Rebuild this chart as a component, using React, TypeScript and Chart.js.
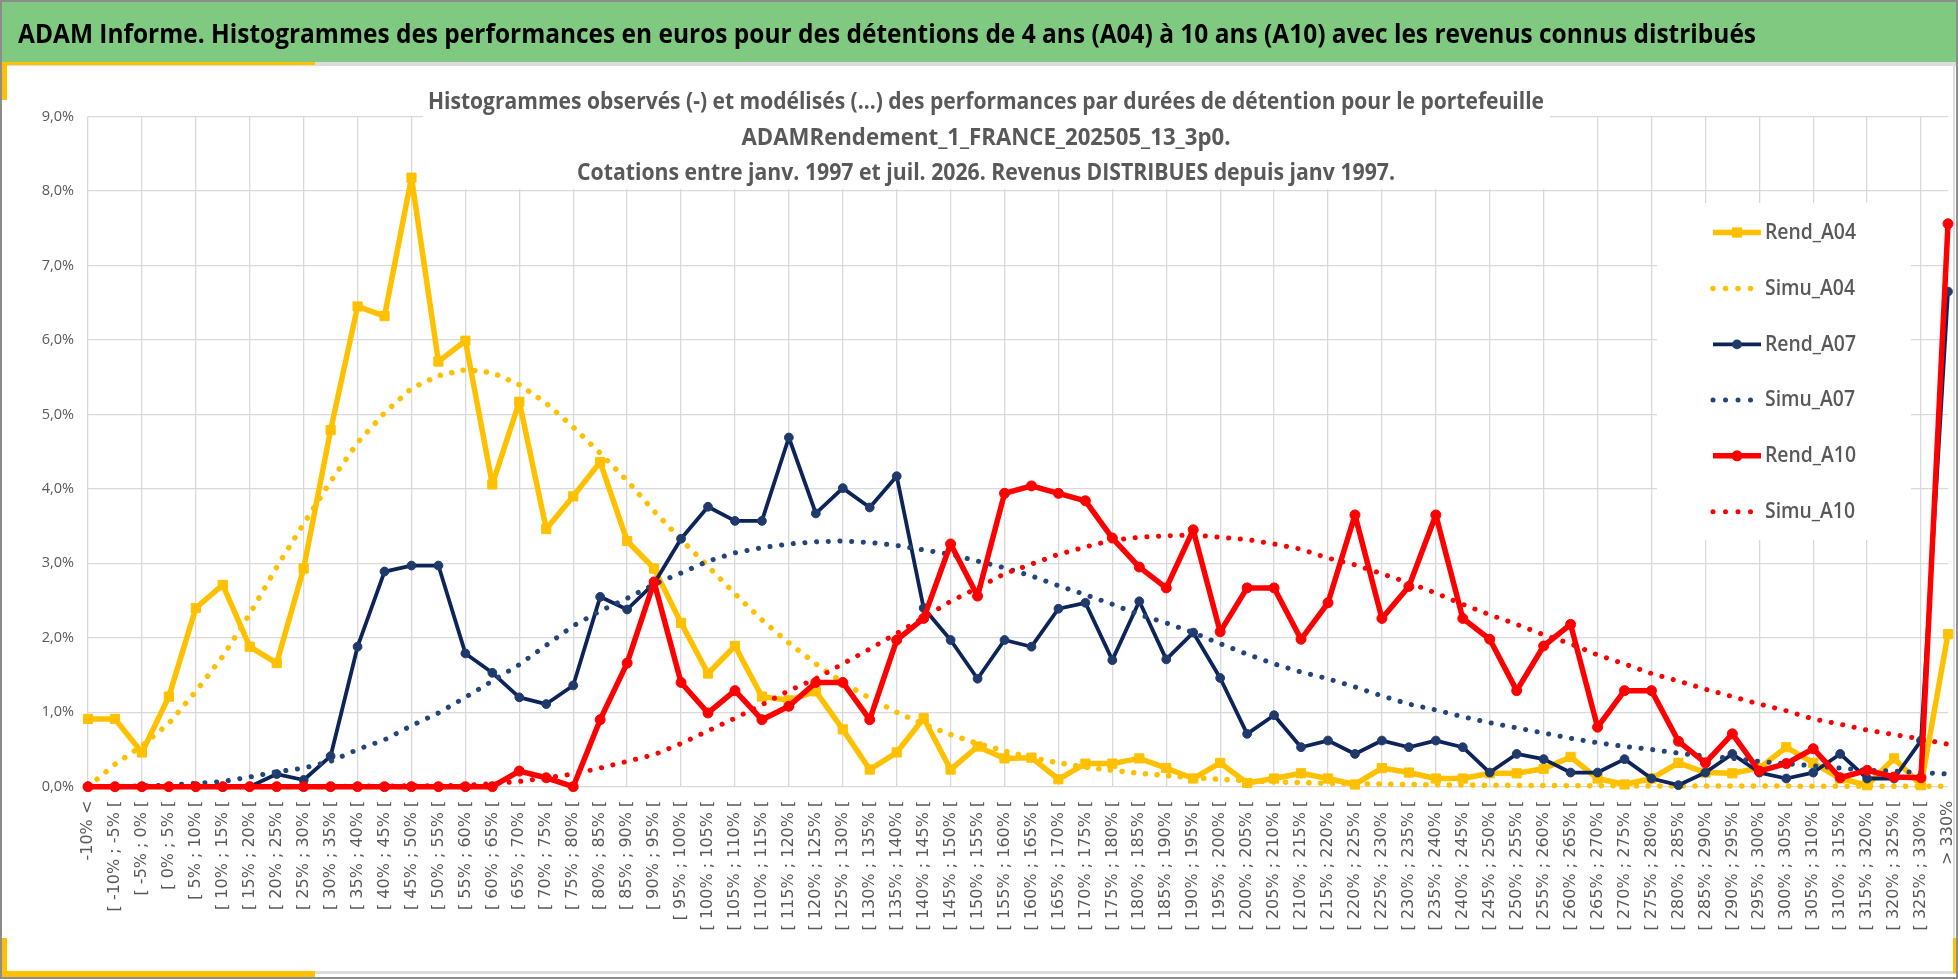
import React, { useEffect, useRef } from 'react';
import { Chart, registerables } from 'chart.js';

Chart.register(...registerables);

const W = 1958;
const H = 979;

const headerTitle =
  'ADAM Informe. Histogrammes des performances en euros pour des détentions de 4 ans (A04) à 10 ans (A10) avec les revenus connus distribués';

const chartTitleLines = [
  'Histogrammes observés (-) et modélisés (...) des performances par durées de détention pour le portefeuille',
  'ADAMRendement_1_FRANCE_202505_13_3p0.',
  'Cotations entre janv. 1997 et juil. 2026. Revenus DISTRIBUES depuis janv 1997.',
];

const categories = [
  '-10% <',
  '[ -10% ; -5% [', '[ -5% ; 0% [', '[ 0% ; 5% [', '[ 5% ; 10% [', '[ 10% ; 15% [',
  '[ 15% ; 20% [', '[ 20% ; 25% [', '[ 25% ; 30% [', '[ 30% ; 35% [', '[ 35% ; 40% [',
  '[ 40% ; 45% [', '[ 45% ; 50% [', '[ 50% ; 55% [', '[ 55% ; 60% [', '[ 60% ; 65% [',
  '[ 65% ; 70% [', '[ 70% ; 75% [', '[ 75% ; 80% [', '[ 80% ; 85% [', '[ 85% ; 90% [',
  '[ 90% ; 95% [', '[ 95% ; 100% [', '[ 100% ; 105% [', '[ 105% ; 110% [', '[ 110% ; 115% [',
  '[ 115% ; 120% [', '[ 120% ; 125% [', '[ 125% ; 130% [', '[ 130% ; 135% [', '[ 135% ; 140% [',
  '[ 140% ; 145% [', '[ 145% ; 150% [', '[ 150% ; 155% [', '[ 155% ; 160% [', '[ 160% ; 165% [',
  '[ 165% ; 170% [', '[ 170% ; 175% [', '[ 175% ; 180% [', '[ 180% ; 185% [', '[ 185% ; 190% [',
  '[ 190% ; 195% [', '[ 195% ; 200% [', '[ 200% ; 205% [', '[ 205% ; 210% [', '[ 210% ; 215% [',
  '[ 215% ; 220% [', '[ 220% ; 225% [', '[ 225% ; 230% [', '[ 230% ; 235% [', '[ 235% ; 240% [',
  '[ 240% ; 245% [', '[ 245% ; 250% [', '[ 250% ; 255% [', '[ 255% ; 260% [', '[ 260% ; 265% [',
  '[ 265% ; 270% [', '[ 270% ; 275% [', '[ 275% ; 280% [', '[ 280% ; 285% [', '[ 285% ; 290% [',
  '[ 290% ; 295% [', '[ 295% ; 300% [', '[ 300% ; 305% [', '[ 305% ; 310% [', '[ 310% ; 315% [',
  '[ 315% ; 320% [', '[ 320% ; 325% [', '[ 325% ; 330% [',
  '> 330%',
];

const rendA04 = [
  0.91, 0.91, 0.46, 1.21, 2.40, 2.71, 1.88, 1.66, 2.93, 4.79,
  6.45, 6.32, 8.18, 5.71, 5.99, 4.06, 5.17, 3.46, 3.90, 4.36,
  3.30, 2.93, 2.20, 1.52, 1.89, 1.21, 1.16, 1.28, 0.77, 0.23,
  0.46, 0.92, 0.23, 0.54, 0.38, 0.39, 0.10, 0.31, 0.31, 0.38,
  0.25, 0.11, 0.32, 0.05, 0.11, 0.18, 0.11, 0.03, 0.25, 0.19,
  0.11, 0.11, 0.18, 0.18, 0.24, 0.40, 0.11, 0.03, 0.11, 0.32,
  0.19, 0.18, 0.25, 0.53, 0.32, 0.11, 0.02, 0.38, 0.02, 2.05,
];

const simuA04 = [
  0.00, 0.30, 0.55, 0.85, 1.28, 1.75, 2.32, 2.95, 3.53, 4.10,
  4.62, 5.02, 5.35, 5.52, 5.60, 5.56, 5.40, 5.15, 4.83, 4.48,
  4.11, 3.70, 3.32, 2.96, 2.59, 2.24, 1.93, 1.65, 1.40, 1.19,
  1.00, 0.84, 0.70, 0.58, 0.48, 0.39, 0.32, 0.26, 0.22, 0.18,
  0.15, 0.12, 0.10, 0.08, 0.065, 0.055, 0.045, 0.04, 0.035, 0.03,
  0.025, 0.022, 0.02, 0.018, 0.016, 0.014, 0.012, 0.011, 0.01, 0.01,
  0.01, 0.009, 0.008, 0.008, 0.007, 0.007, 0.006, 0.006, 0.005, 0.005,
];

const rendA07 = [
  0, 0, 0, 0, 0, 0, 0, 0.17, 0.09, 0.41,
  1.88, 2.89, 2.97, 2.97, 1.79, 1.53, 1.20, 1.11, 1.36, 2.55,
  2.38, 2.73, 3.33, 3.76, 3.57, 3.57, 4.69, 3.67, 4.01, 3.75,
  4.17, 2.40, 1.97, 1.45, 1.97, 1.88, 2.39, 2.47, 1.70, 2.49,
  1.71, 2.07, 1.46, 0.71, 0.96, 0.53, 0.62, 0.44, 0.62, 0.53,
  0.62, 0.53, 0.19, 0.44, 0.37, 0.19, 0.19, 0.37, 0.11, 0.02,
  0.19, 0.44, 0.19, 0.11, 0.19, 0.44, 0.11, 0.11, 0.62, 6.65,
];

const simuA07 = [
  0.00, 0.005, 0.01, 0.02, 0.045, 0.07, 0.13, 0.20, 0.25, 0.34,
  0.50, 0.63, 0.82, 0.99, 1.20, 1.42, 1.64, 1.90, 2.16, 2.36,
  2.53, 2.72, 2.87, 3.03, 3.14, 3.21, 3.26, 3.29, 3.30, 3.28,
  3.24, 3.18, 3.12, 3.03, 2.94, 2.83, 2.70, 2.58, 2.45, 2.31,
  2.20, 2.07, 1.92, 1.78, 1.65, 1.54, 1.45, 1.34, 1.22, 1.11,
  1.03, 0.94, 0.86, 0.79, 0.72, 0.65, 0.59, 0.54, 0.50, 0.45,
  0.41, 0.38, 0.34, 0.31, 0.28, 0.25, 0.22, 0.21, 0.19, 0.17,
];

const rendA10 = [
  0, 0, 0, 0, 0, 0, 0, 0, 0, 0,
  0, 0, 0, 0, 0, 0, 0.21, 0.12, 0.00, 0.90,
  1.66, 2.75, 1.40, 0.99, 1.29, 0.90, 1.08, 1.40, 1.40, 0.90,
  1.97, 2.26, 3.26, 2.56, 3.94, 4.04, 3.94, 3.84, 3.34, 2.95,
  2.67, 3.45, 2.08, 2.67, 2.67, 1.98, 2.47, 3.65, 2.26, 2.69,
  3.65, 2.26, 1.98, 1.29, 1.89, 2.18, 0.80, 1.29, 1.29, 0.61,
  0.32, 0.71, 0.21, 0.31, 0.51, 0.12, 0.22, 0.13, 0.12, 7.56,
];

const simuA10 = [
  0, 0, 0, 0, 0, 0, 0, 0, 0.003, 0.005,
  0.007, 0.01, 0.012, 0.015, 0.02, 0.04, 0.07, 0.12, 0.17, 0.25,
  0.34, 0.43, 0.58, 0.75, 0.92, 1.10, 1.29, 1.45, 1.65, 1.85,
  2.06, 2.27, 2.49, 2.67, 2.86, 2.99, 3.12, 3.22, 3.31, 3.35,
  3.37, 3.38, 3.35, 3.32, 3.26, 3.19, 3.07, 2.98, 2.86, 2.74,
  2.60, 2.45, 2.31, 2.18, 2.04, 1.92, 1.77, 1.65, 1.52, 1.42,
  1.31, 1.21, 1.11, 1.02, 0.91, 0.84, 0.76, 0.70, 0.64, 0.57,
];

const yTicks = [0, 1, 2, 3, 4, 5, 6, 7, 8, 9];

const YEL = '#FFC000';
const NAVY = '#0C2459';
const NAVY_PT = '#203A6C';
const STEEL = '#22457A';
const RED = '#FF0000';
const GRID = '#D9D9D9';
const TXT = '#595959';
const DOT = [0.1, 11.6];

function fitText(
  ctx: CanvasRenderingContext2D,
  text: string,
  x: number,
  y: number,
  font: string,
  scaleX: number,
  align: CanvasTextAlign,
  baseline: CanvasTextBaseline
) {
  ctx.save();
  ctx.font = font;
  ctx.translate(x, y);
  ctx.scale(scaleX, 1);
  ctx.textAlign = align;
  ctx.textBaseline = baseline;
  ctx.fillText(text, 0, 0);
  ctx.restore();
}

const overlayPlugin = {
  id: 'overlay',
  beforeDatasetsDraw(chart: any) {
    const ctx: CanvasRenderingContext2D = chart.ctx;
    ctx.save();
    // title box
    ctx.fillStyle = '#FFFFFF';
    ctx.fillRect(423, 80, 1127, 109);
    // title lines
    ctx.fillStyle = TXT;
    const tFont = "700 24px 'Open Sans'";
    const targets = [1116, 489, 818];
    const baselines = [109, 145, 180];
    chartTitleLines.forEach((line, i) => {
      ctx.font = tFont;
      const w = ctx.measureText(line).width;
      fitText(ctx, line, 986, baselines[i], tFont, targets[i] / w, 'center', 'alphabetic');
    });
    // legend box
    ctx.fillStyle = '#FFFFFF';
    ctx.fillRect(1657, 203, 254, 337);
    const lFont = "600 22px 'Open Sans'";
    ctx.font = lFont;
    const k = 91 / ctx.measureText('Rend_A04').width;
    const ys = [232.5, 288.4, 344.4, 399.9, 455.8, 511.8];
    chart.data.datasets.forEach((ds: any, i: number) => {
      const y = ys[i];
      const x0 = 1713;
      const x1 = 1761;
      ctx.save();
      if (ds.borderDash && ds.borderDash.length) {
        ctx.fillStyle = ds.borderColor;
        for (let j = 0; j < 4; j++) {
          ctx.beginPath();
          ctx.arc(x0 + j * 12.5, y, ds.borderWidth / 2, 0, Math.PI * 2);
          ctx.fill();
        }
      } else {
        ctx.strokeStyle = ds.borderColor;
        ctx.lineWidth = ds.borderWidth;
        ctx.beginPath();
        ctx.moveTo(x0, y);
        ctx.lineTo(x1, y);
        ctx.stroke();
        ctx.fillStyle = ds.pointBackgroundColor;
        const cx = (x0 + x1) / 2;
        if (ds.pointStyle === 'rect') {
          const s = ds.pointRadius * Math.SQRT1_2 + 0.5;
          ctx.fillRect(cx - s, y - s, 2 * s, 2 * s);
        } else {
          ctx.beginPath();
          ctx.arc(cx, y, ds.pointRadius + 0.5, 0, Math.PI * 2);
          ctx.fill();
        }
      }
      ctx.restore();
      ctx.fillStyle = TXT;
      fitText(ctx, ds.label, 1765, y, lFont, k, 'left', 'middle');
    });
    ctx.restore();
  },
};

function solid(label: string, data: number[], color: string, ptColor: string, width: number, style: string, radius: number, order: number) {
  return {
    label,
    data,
    borderColor: color,
    backgroundColor: color,
    borderWidth: width,
    borderJoinStyle: 'round',
    pointStyle: style,
    pointRadius: radius,
    pointHoverRadius: radius,
    pointBackgroundColor: ptColor,
    pointBorderColor: ptColor,
    pointBorderWidth: 1,
    tension: 0,
    clip: false,
    order,
  };
}

function dotted(label: string, data: number[], color: string, width: number, order: number) {
  return {
    label,
    data,
    borderColor: color,
    backgroundColor: color,
    borderWidth: width,
    borderDash: DOT,
    borderCapStyle: 'round',
    borderJoinStyle: 'round',
    pointRadius: 0,
    pointHoverRadius: 0,
    tension: 0,
    clip: false,
    order,
  };
}

export default function App() {
  const canvasRef = useRef<HTMLCanvasElement>(null);
  const titleRef = useRef<HTMLDivElement>(null);

  useEffect(() => {
    document.body.style.margin = '0';
    if (titleRef.current) {
      const c = document.createElement('canvas').getContext('2d');
      if (c) {
        c.font = "700 27px 'Open Sans'";
        const w = c.measureText(headerTitle).width;
        titleRef.current.style.transform = `scaleX(${1738 / w})`;
      }
    }
    const canvas = canvasRef.current;
    if (!canvas) return;
    const chart = new Chart(canvas, {
      type: 'line',
      data: {
        labels: categories,
        datasets: [
          solid('Rend_A04', rendA04, YEL, YEL, 5.5, 'rect', 6.5, 6),
          dotted('Simu_A04', simuA04, YEL, 5.5, 5),
          solid('Rend_A07', rendA07, NAVY, NAVY_PT, 3.8, 'circle', 4.4, 4),
          dotted('Simu_A07', simuA07, STEEL, 5, 3),
          solid('Rend_A10', rendA10, RED, RED, 5.5, 'circle', 5, 2),
          dotted('Simu_A10', simuA10, RED, 5, 1),
        ] as any,
      },
      options: {
        animation: false,
        responsive: false,
        devicePixelRatio: 1,
        events: [],
        layout: { padding: { top: 116.6, right: 10, left: 0, bottom: 0 } },
        plugins: {
          legend: { display: false },
          title: { display: false },
          tooltip: { enabled: false },
        },
        scales: {
          x: {
            type: 'category',
            offset: false,
            border: { display: false },
            grid: {
              color: (c: any) => (c.index % 2 === 0 ? GRID : 'rgba(0,0,0,0)'),
              lineWidth: 1.3,
              drawTicks: false,
            },
            ticks: {
              autoSkip: false,
              maxRotation: 90,
              minRotation: 90,
              padding: 14,
              color: TXT,
              font: { family: "'DejaVu Sans'", size: 16 },
            },
            afterFit: (s: any) => {
              s.height = 192.3;
              s.paddingLeft = 0;
              s.paddingRight = 0;
            },
          },
          y: {
            min: 0,
            max: 9,
            border: { display: false },
            grid: { color: GRID, lineWidth: 1.3, drawTicks: false },
            afterBuildTicks: (s: any) => {
              s.ticks = yTicks.map((v) => ({ value: v }));
            },
            ticks: {
              stepSize: 1,
              padding: 14,
              color: TXT,
              font: { family: "'Open Sans'", size: 14.5 },
              callback: (v: any) => Number(v).toFixed(1).replace('.', ',') + '%',
            },
            afterFit: (s: any) => {
              s.width = 88;
              s.paddingTop = 0;
              s.paddingBottom = 0;
            },
          },
        },
      } as any,
      plugins: [overlayPlugin],
    });
    return () => chart.destroy();
  }, []);

  const abs = (style: React.CSSProperties): React.CSSProperties => ({ position: 'absolute', ...style });

  return (
    <div style={{ position: 'relative', width: W, height: H, overflow: 'hidden', background: '#FFFFFF' }}>
      <div style={abs({ left: 2, top: 2, width: W - 4, height: 60, background: '#80C980' })} />
      <div style={abs({ left: 2, top: 62, width: W - 4, height: 3.5, background: '#DCDCDC' })} />
      <div style={abs({ left: W - 5, top: 62, width: 2, height: 911, background: '#DCDCDC' })} />
      <div style={abs({ left: 2, top: 971, width: W - 4, height: 2.5, background: '#DCDCDC' })} />
      <div style={abs({ left: 2, top: 62, width: 313, height: 3, background: YEL })} />
      <div style={abs({ left: 2, top: 62, width: 5, height: 38, background: YEL })} />
      <div style={abs({ left: 2, top: 971, width: 313, height: 6, background: YEL })} />
      <div style={abs({ left: 2, top: 938, width: 5, height: 39, background: YEL })} />
      <div style={abs({ left: W - 5, top: 938, width: 3, height: 35, background: YEL })} />
      <div
        style={abs({ left: 0, top: 0, width: W, height: H, boxSizing: 'border-box', border: '2px solid #8C8C8C' })}
      />
      <canvas ref={canvasRef} width={W} height={H} style={abs({ left: 0, top: 0, width: W, height: H })} />
      <div
        ref={titleRef}
        style={abs({
          left: 18,
          top: 19,
          whiteSpace: 'nowrap',
          fontFamily: "'Open Sans'",
          fontWeight: 700,
          fontSize: 27,
          lineHeight: '27px',
          color: '#000000',
          transformOrigin: 'left center',
        })}
      >
        {headerTitle}
      </div>
    </div>
  );
}
